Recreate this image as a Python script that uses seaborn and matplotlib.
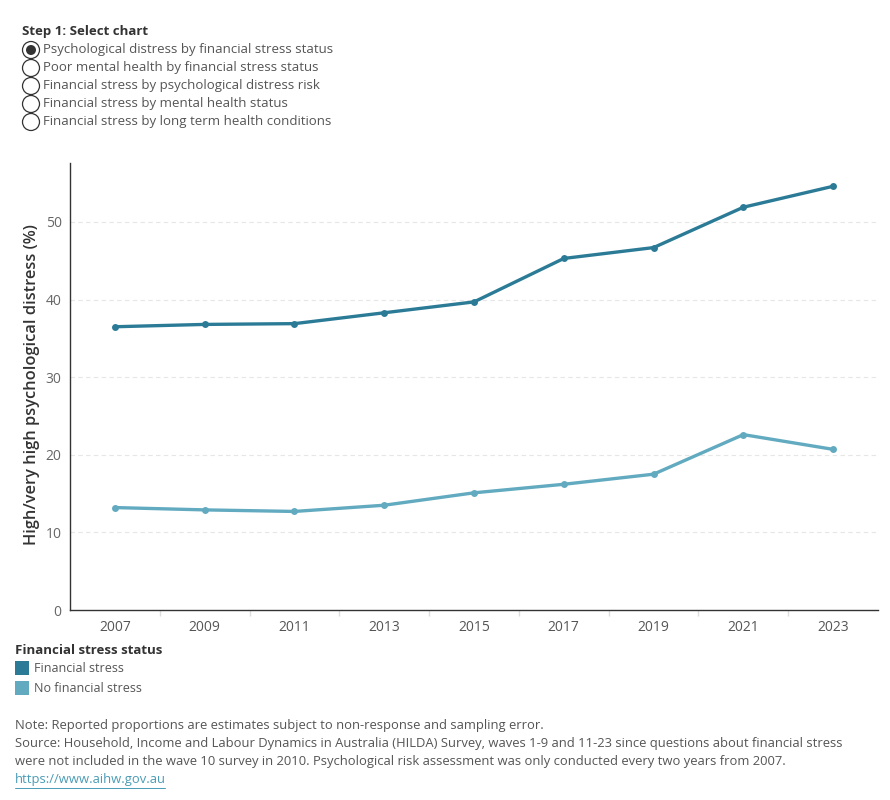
import pandas as pd
import matplotlib.pyplot as plt
import seaborn as sns
from matplotlib.patches import Rectangle, Ellipse

# Data
years = [2007, 2009, 2011, 2013, 2015, 2017, 2019, 2021, 2023]
financial_stress = [36.5, 36.8, 36.9, 38.3, 39.7, 45.3, 46.7, 51.9, 54.6]
no_financial_stress = [13.2, 12.9, 12.7, 13.5, 15.1, 16.2, 17.5, 22.6, 20.7]
series_names = ["Financial stress", "No financial stress"]
series_colors = ["#2b7b97", "#62aac0"]
y_ticks = [0, 10, 20, 30, 40, 50]
chart_options = [
    "Psychological distress by financial stress status",
    "Poor mental health by financial stress status",
    "Financial stress by psychological distress risk",
    "Financial stress by mental health status",
    "Financial stress by long term health conditions",
]

df = pd.DataFrame({
    "Year": years * 2,
    "Value": financial_stress + no_financial_stress,
    "Status": [series_names[0]] * len(years) + [series_names[1]] * len(years),
})

sns.set_theme(style="white")
plt.rcParams["font.family"] = ["Open Sans", "DejaVu Sans"]

fig = plt.figure(figsize=(8.9, 8), dpi=100)
ax = fig.add_axes([70 / 890, 1 - 610 / 800, 808 / 890, 447 / 800])

sns.lineplot(data=df, x="Year", y="Value", hue="Status", palette=series_colors,
             marker="o", markersize=5, markeredgewidth=0, linewidth=2.4,
             legend=False, ax=ax)

ax.set_xlim(2006, 2024)
ax.set_ylim(0, 57.6)
ax.set_xticks(years)
ax.set_xticklabels([str(y) for y in years])
ax.set_xticks([y + 1 for y in years[:-1]], minor=True)
ax.set_yticks(y_ticks)
for t in y_ticks[1:]:
    ax.axhline(t, color="#e6e6e6", lw=0.8, ls=(0, (4, 3)), zorder=0)
ax.tick_params(axis="x", which="major", length=0, labelsize=10, colors="#555555", pad=7)
ax.tick_params(axis="x", which="minor", length=4, color="#dddddd", bottom=True)
ax.tick_params(axis="y", length=0, labelsize=10, colors="#666666", pad=6)
ax.set_xlabel("")
ax.set_ylabel("High/very high psychological distress (%)", fontsize=11.8,
              fontweight="semibold", color="#333333")
ax.yaxis.set_label_coords(-30 / 808, 225 / 447)
for s in ["top", "right"]:
    ax.spines[s].set_visible(False)
for s in ["left", "bottom"]:
    ax.spines[s].set_color("#333333")
    ax.spines[s].set_linewidth(1)

# Chart selector
fig.text(22 / 890, 1 - 32 / 800, "Step 1: Select chart", fontsize=9.5,
         fontweight="bold", color="#333333", va="center")
for i, label in enumerate(chart_options):
    yc = 1 - (50 + 18 * i) / 800
    fig.patches.append(Ellipse((31 / 890, yc), 17 / 890, 17 / 800, transform=fig.transFigure,
                               facecolor="white", edgecolor="#333333", lw=0.9))
    if i == 0:
        fig.patches.append(Ellipse((31 / 890, yc), 10 / 890, 10 / 800, transform=fig.transFigure,
                                   facecolor="#333333", edgecolor="none"))
    fig.text(43 / 890, yc, label, fontsize=9.5, color="#555555", va="center")

# Legend
fig.text(15 / 890, 1 - 650 / 800, "Financial stress status", fontsize=9.5,
         fontweight="bold", color="#333333", va="center")
for i, (name, col) in enumerate(zip(series_names, series_colors)):
    yc = 1 - (668 + 20 * i) / 800
    fig.patches.append(Rectangle((15 / 890, yc - 7 / 800), 14 / 890, 14 / 800,
                                 transform=fig.transFigure, facecolor=col, edgecolor="none"))
    fig.text(34 / 890, yc, name, fontsize=9, color="#555555", va="center")

# Notes
notes = [
    "Note: Reported proportions are estimates subject to non-response and sampling error.",
    "Source: Household, Income and Labour Dynamics in Australia (HILDA) Survey, waves 1-9 and 11-23 since questions about financial stress",
    "were not included in the wave 10 survey in 2010. Psychological risk assessment was only conducted every two years from 2007.",
]
for i, n in enumerate(notes):
    fig.text(15 / 890, 1 - (725 + 18.5 * i) / 800, n, fontsize=9.4, color="#555555", va="center")
fig.text(15 / 890, 1 - 780 / 800, "https://www.aihw.gov.au", fontsize=9.4,
         color="#4a9bb5", va="center")
fig.add_artist(plt.Line2D([15 / 890, 165 / 890], [1 - 788 / 800] * 2, color="#4a9bb5", lw=0.7))

fig.savefig("out.png", dpi=100)
